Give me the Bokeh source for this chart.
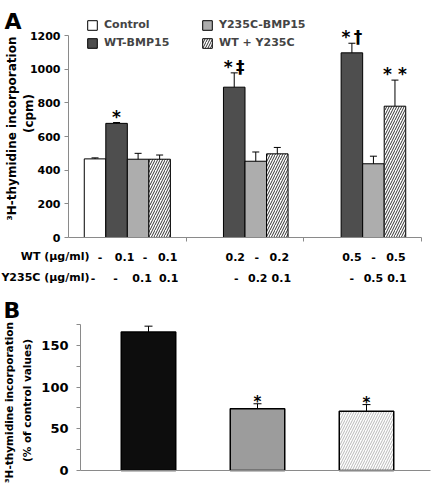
import math
from bokeh.plotting import figure
from bokeh.models import (ColumnDataSource, Whisker, TeeHead, LabelSet, Label,
                          Legend, LegendItem, FixedTicker, Range1d)
from bokeh.layouts import column
from bokeh.embed import file_html
from bokeh.resources import INLINE
from bokeh.core.properties import value

# ---------------- Panel A data ----------------
group_centers = [0.5, 1.5, 2.5]
series_names = ["Control", "WT-BMP15", "Y235C-BMP15", "WT + Y235C"]
control_cpm = [467, None, None]
wt_cpm = [678, 893, 1097]
y235c_cpm = [465, 453, 438]
wt_y235c_cpm = [465, 497, 780]
control_err = [6, None, None]
wt_err = [5, 85, 57]
y235c_err = [35, 55, 45]
wt_y235c_err = [25, 38, 155]
control_sig = ["", "", ""]
wt_sig = ["*", "*\u2009\u2021", "*\u2009\u2020"]
y235c_sig = ["", "", ""]
wt_y235c_sig = ["", "", "* *"]
wt_dose_control = ["-", None, None]
wt_dose_wt = ["0.1", "0.2", "0.5"]
wt_dose_y235c = ["-", "-", "-"]
wt_dose_mix = ["0.1", "0.2", "0.5"]
y_dose_control = ["-", None, None]
y_dose_wt = ["-", "-", "-"]
y_dose_y235c = ["0.1", "0.2", "0.5"]
y_dose_mix = ["0.1", "0.1", "0.1"]
a_ticks = [0, 200, 400, 600, 800, 1000, 1200]
a_ymax = 1200
a_groups = 3

# ---------------- Panel B data ----------------
b_positions = [0, 1, 2]
b_percent = [166, 74, 71]
b_err = [7, 6, 8]
b_sig = ["", "*", "*"]
b_ticks = [0, 50, 100, 150]
b_minor_ticks = [25, 75, 125, 175]
b_ymax = 175

FONT = "DejaVu Sans"
AXIS_GRAY = "#8a8a8a"
BAR_W = 0.183
# horizontal nudges (px) of the dose texts under each series/group, as in the original layout
row1_nudge = [[5, None, None], [8, 1, 0], [7, 1, 0], [8, 2, 1]]
row2_nudge = [[-2, None, None], [-1, 2, 0], [4, 2, 0], [9, 4, 2]]

# ---- pixel geometry of panel A (figure = frame) ----
A_W, A_H = 435, 290
A_AX_LEFT, A_AX_RIGHT, A_AX_TOP, A_AX_BOTTOM = 68, 421, 35, 237
ax_px = (A_AX_RIGHT - A_AX_LEFT) / a_groups
ay_px = (A_AX_BOTTOM - A_AX_TOP) / a_ymax
a_xr = Range1d(-A_AX_LEFT / ax_px, a_groups + (A_W - A_AX_RIGHT) / ax_px)
a_yr = Range1d(-(A_H - A_AX_BOTTOM) / ay_px, a_ymax + A_AX_TOP / ay_px)

pa = figure(width=A_W, height=A_H, output_backend="svg", toolbar_location=None,
            x_range=a_xr, y_range=a_yr, min_border=0)
pa.outline_line_color = None
pa.grid.visible = False

slot = [-1.5, -0.5, 0.5, 1.5]
vals = [control_cpm, wt_cpm, y235c_cpm, wt_y235c_cpm]
errs = [control_err, wt_err, y235c_err, wt_y235c_err]
sigs = [control_sig, wt_sig, y235c_sig, wt_y235c_sig]
wt_rows = [wt_dose_control, wt_dose_wt, wt_dose_y235c, wt_dose_mix]
y_rows = [y_dose_control, y_dose_wt, y_dose_y235c, y_dose_mix]
styles = [
    dict(fill_color="white"),
    dict(fill_color="#4e4e4e"),
    dict(fill_color="#adadad"),
    dict(fill_color="white", hatch_pattern="/", hatch_color="#333333", hatch_scale=5, hatch_weight=1),
]

renderers = []
lab_x, lab_wt, lab_y, dx1, dx2 = [], [], [], [], []
sig_x, sig_y, sig_t = [], [], []
for s in range(4):
    xs, tops, ups = [], [], []
    for g in range(3):
        v = vals[s][g]
        if v is None:
            continue
        x = group_centers[g] + slot[s] * BAR_W
        xs.append(x)
        tops.append(v)
        ups.append(v + errs[s][g])
        if sigs[s][g]:
            sig_x.append(x)
            sig_y.append(v + errs[s][g])
            sig_t.append(sigs[s][g])
        lab_x.append(x)
        lab_wt.append(wt_rows[s][g])
        lab_y.append(y_rows[s][g])
        dx1.append(row1_nudge[s][g])
        dx2.append(row2_nudge[s][g])
    src = ColumnDataSource(dict(x=xs, top=tops, upper=ups))
    r = pa.vbar(x="x", top="top", width=BAR_W, source=src, line_color="black", line_width=1,
                **styles[s])
    renderers.append(r)
    pa.add_layout(Whisker(base="x", lower="top", upper="upper", source=src, line_color="black",
                          line_width=1, upper_head=TeeHead(size=7, line_color="black", line_width=1),
                          lower_head=None, level="overlay"))

sig_src = ColumnDataSource(dict(x=sig_x, y=sig_y, t=sig_t))
pa.add_layout(LabelSet(x="x", y="y", text="t", source=sig_src, y_offset=0,
                       text_align="center", text_baseline="alphabetic",
                       text_font=value(FONT), text_font_size="17px", text_font_style="bold",
                       text_color="black"))

dose_src = ColumnDataSource(dict(x=lab_x, wt=lab_wt, y=lab_y, dx1=dx1, dx2=dx2))
for col, dx, ypos in (("wt", "dx1", A_H - 256), ("y", "dx2", A_H - 277)):
    pa.add_layout(LabelSet(x="x", y=ypos, y_units="screen", text=col, source=dose_src,
                           x_offset=dx, text_align="center", text_baseline="middle",
                           text_font=value(FONT), text_font_size="11px", text_font_style="bold",
                           text_color="black"))
for txt, ypos in (("WT (\u00b5g/ml)", A_H - 256), ("Y235C (\u00b5g/ml)", A_H - 277)):
    pa.add_layout(Label(x=89, y=ypos, x_units="screen", y_units="screen", text=txt,
                        text_align="right", text_baseline="middle", text_font=FONT,
                        text_font_size="11px", text_font_style="bold", text_color="black"))

leg1 = Legend(items=[LegendItem(label=series_names[0], renderers=[renderers[0]]),
                     LegendItem(label=series_names[1], renderers=[renderers[1]])],
              location=(86, A_H - 49))
leg2 = Legend(items=[LegendItem(label=series_names[2], renderers=[renderers[2]]),
                     LegendItem(label=series_names[3], renderers=[renderers[3]])],
              location=(201, A_H - 49))
for lg in (leg1, leg2):
    lg.padding = 0
    lg.margin = 0
    lg.spacing = 5
    lg.glyph_width = 12
    lg.glyph_height = 12
    lg.label_height = 12
    lg.label_standoff = 6
    lg.border_line_color = None
    lg.background_fill_alpha = 0
    lg.label_text_font = FONT
    lg.label_text_font_size = "11px"
    lg.label_text_font_style = "bold"
    lg.label_text_baseline = "middle"
    pa.add_layout(lg)

# axes crossing at the origin
pa.yaxis.fixed_location = 0
pa.yaxis.bounds = (0, a_ymax)
pa.xaxis.fixed_location = 0
pa.xaxis.bounds = (0, a_groups)
pa.yaxis.ticker = FixedTicker(ticks=a_ticks, minor_ticks=[])
pa.xaxis.ticker = FixedTicker(ticks=[1, 2, 3], minor_ticks=[])
pa.xaxis.major_label_text_font_size = "0px"
for ax in (pa.xaxis, pa.yaxis):
    ax.axis_line_color = AXIS_GRAY
    ax.major_tick_line_color = AXIS_GRAY
    ax.major_tick_in = 0
    ax.major_tick_out = 4
    ax.minor_tick_line_color = None
pa.yaxis.major_label_standoff = 4
pa.yaxis.major_label_text_font = FONT
pa.yaxis.major_label_text_font_size = "11px"
pa.yaxis.major_label_text_font_style = "bold"
pa.yaxis.major_label_text_color = "black"

pa.add_layout(Label(x=4, y=A_H - 21, x_units="screen", y_units="screen", text="A",
                    text_font=FONT, text_font_size="22px", text_font_style="bold",
                    text_baseline="alphabetic", text_color="black"))
pa.add_layout(Label(x=11, y=A_H - 128, x_units="screen", y_units="screen", angle=math.pi / 2,
                    text="\u00b3H-thymidine incorporation", text_align="center",
                    text_baseline="middle", text_font=FONT, text_font_size="12px",
                    text_font_style="bold", text_color="black"))
pa.add_layout(Label(x=28, y=A_H - 113, x_units="screen", y_units="screen", angle=math.pi / 2,
                    text="(cpm)", text_align="center",
                    text_baseline="middle", text_font=FONT, text_font_size="12px",
                    text_font_style="bold", text_color="black"))

# ---- pixel geometry of panel B (figure = frame) ----
B_W, B_H = 435, 194
B_AX_LEFT, B_AX_RIGHT, B_AX_TOP, B_AX_BOTTOM = 80, 430, 34, 180
B_FIRST, B_STEP = 148, 109
bx_px = B_STEP
by_px = (B_AX_BOTTOM - B_AX_TOP) / b_ymax
b_xr = Range1d(-B_FIRST / bx_px, (B_W - B_FIRST) / bx_px)
b_yr = Range1d(-(B_H - B_AX_BOTTOM) / by_px, B_AX_BOTTOM / by_px)
b_axis_x0 = (B_AX_LEFT - B_FIRST) / bx_px
b_axis_x1 = (B_AX_RIGHT - B_FIRST) / bx_px

pb = figure(width=B_W, height=B_H, output_backend="svg", toolbar_location=None,
            x_range=b_xr, y_range=b_yr, min_border=0)
pb.outline_line_color = None
pb.grid.visible = False

bsrc = ColumnDataSource(dict(
    x=b_positions, top=b_percent, upper=[v + e for v, e in zip(b_percent, b_err)],
    fill=["#0d0d0d", "#9c9c9c", "white"], hatch=[" ", " ", "/"]))
pb.vbar(x="x", top="top", width=0.5, source=bsrc, fill_color="fill", line_color="black",
        line_width=1.5, hatch_pattern="hatch", hatch_color="#9a9a9a", hatch_scale=5,
        hatch_weight=0.7)
pb.add_layout(Whisker(base="x", lower="top", upper="upper", source=bsrc, line_color="black",
                      line_width=1, upper_head=TeeHead(size=8, line_color="black", line_width=1),
                      lower_head=None, level="overlay"))
b_keep = [i for i, t in enumerate(b_sig) if t]
bsig_src = ColumnDataSource(dict(x=[b_positions[i] for i in b_keep],
                                 y=[b_percent[i] + b_err[i] for i in b_keep],
                                 t=[b_sig[i] for i in b_keep]))
pb.add_layout(LabelSet(x="x", y="y", text="t", source=bsig_src, y_offset=-3,
                       text_align="center", text_baseline="alphabetic",
                       text_font=value(FONT), text_font_size="15px", text_font_style="bold",
                       text_color="black"))

pb.yaxis.fixed_location = b_axis_x0
pb.yaxis.bounds = (0, b_ymax)
pb.xaxis.fixed_location = 0
pb.xaxis.bounds = (b_axis_x0, b_axis_x1)
pb.yaxis.ticker = FixedTicker(ticks=b_ticks, minor_ticks=b_minor_ticks)
pb.xaxis.ticker = FixedTicker(ticks=[], minor_ticks=[])
pb.xaxis.major_label_text_font_size = "0px"
for ax in (pb.xaxis, pb.yaxis):
    ax.axis_line_color = AXIS_GRAY
    ax.major_tick_line_color = AXIS_GRAY
    ax.minor_tick_line_color = AXIS_GRAY
    ax.major_tick_in = 0
    ax.major_tick_out = 4
    ax.minor_tick_in = 0
    ax.minor_tick_out = 4
pb.yaxis.major_label_standoff = 8
pb.yaxis.major_label_text_font = FONT
pb.yaxis.major_label_text_font_size = "13px"
pb.yaxis.major_label_text_font_style = "bold"
pb.yaxis.major_label_text_color = "black"

pb.add_layout(Label(x=3, y=B_H - 20, x_units="screen", y_units="screen", text="B",
                    text_font=FONT, text_font_size="22px", text_font_style="bold",
                    text_baseline="alphabetic", text_color="black"))
pb.add_layout(Label(x=8, y=B_H - 112, x_units="screen", y_units="screen", angle=math.pi / 2,
                    text="\u00b3H-thymidine incorporation", text_align="center",
                    text_baseline="middle", text_font=FONT, text_font_size="10.5px",
                    text_font_style="bold", text_color="black"))
pb.add_layout(Label(x=26, y=B_H - 110, x_units="screen", y_units="screen", angle=math.pi / 2,
                    text="(% of control values)", text_align="center",
                    text_baseline="middle", text_font=FONT, text_font_size="10.5px",
                    text_font_style="bold", text_color="black"))

layout = column(pa, pb, spacing=0)
open("out.html", "w").write(file_html(layout, INLINE))
